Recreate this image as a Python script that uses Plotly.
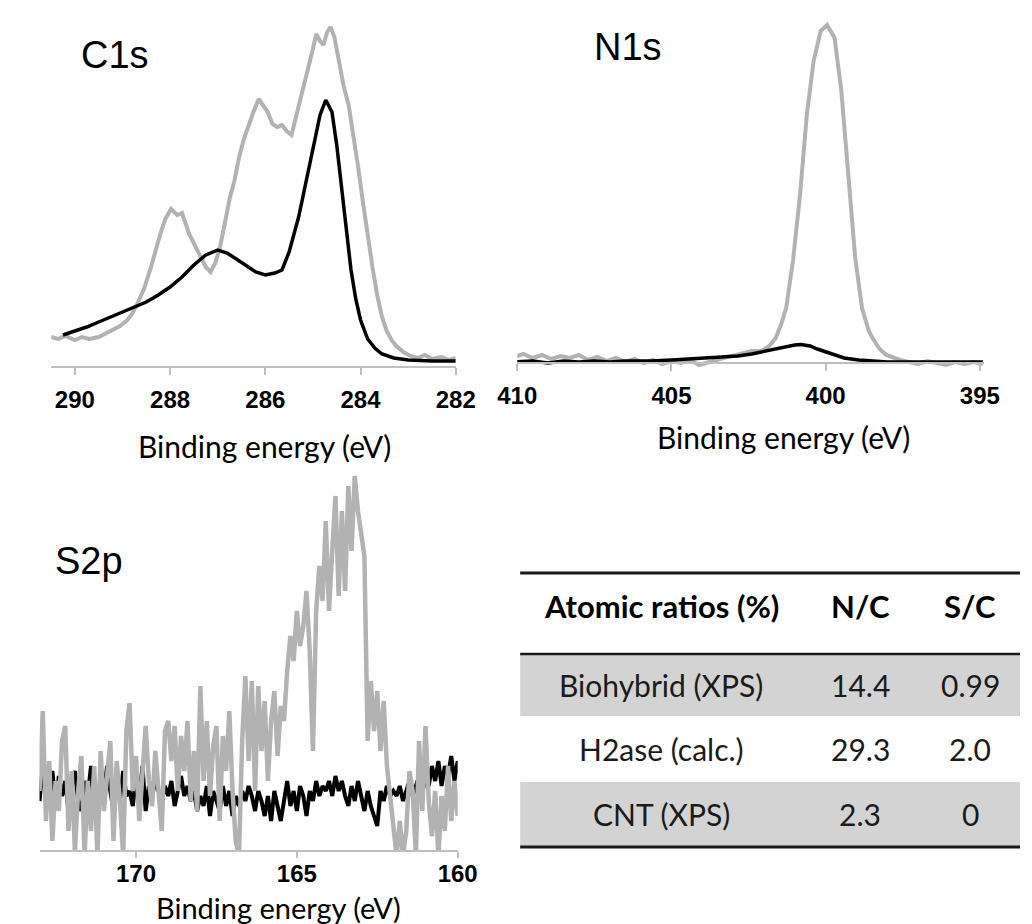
import plotly.graph_objects as go

W, H = 1032, 924

# ---------------- data ----------------
c1s_black_e = [290.25, 290.0, 289.75, 289.5, 289.25, 289.0, 288.75, 288.5, 288.25, 288.0, 287.75, 287.5,
               287.25, 287.0, 286.8, 286.6, 286.4, 286.2, 286.0, 285.8, 285.65, 285.5, 285.3, 285.1,
               284.95, 284.85, 284.73, 284.6, 284.5, 284.4, 284.3, 284.2, 284.1, 284.0, 283.85, 283.7,
               283.55, 283.3, 283.0, 282.5, 282.0]
c1s_black_i = [32, 36, 40, 45, 50, 55, 60, 65, 72, 80, 90, 102,
               112, 117, 114, 108, 101, 95, 92, 94, 97, 115, 150, 195,
               228, 252, 267, 255, 222, 180, 140, 97, 68, 47, 28, 19,
               13, 9, 7, 6, 6]

c1s_gray_e = [290.5, 290.35, 290.2, 290.0, 289.85, 289.7, 289.5, 289.35, 289.2, 289.05, 288.9, 288.8,
              288.7, 288.55, 288.4, 288.3, 288.2, 288.1, 287.98, 287.85, 287.75, 287.6, 287.45, 287.35,
              287.25, 287.15, 287.05, 286.95, 286.85, 286.75, 286.65, 286.55, 286.45, 286.35, 286.25,
              286.14, 286.05, 285.95, 285.85, 285.75, 285.65, 285.55, 285.45, 285.38, 285.3, 285.2,
              285.1, 285.0, 284.93, 284.85, 284.78, 284.7, 284.63, 284.55, 284.45, 284.35, 284.25,
              284.15, 284.05, 283.95, 283.85, 283.75, 283.65, 283.55, 283.45, 283.35, 283.25, 283.1,
              282.95, 282.8, 282.65, 282.5, 282.3, 282.15, 282.0]
c1s_gray_i = [30, 28, 31, 27, 30, 28, 30, 34, 38, 41, 47, 53,
              62, 78, 100, 118, 134, 148, 158, 152, 154, 133, 118, 108,
              100, 95, 104, 120, 145, 168, 186, 210, 228, 242, 255,
              268, 262, 255, 243, 240, 242, 236, 232, 245, 262, 282,
              300, 318, 333, 326, 322, 335, 340, 330, 305, 280, 262,
              232, 200, 165, 130, 100, 72, 50, 36, 27, 21, 15,
              11, 9, 12, 8, 10, 7, 9]

n1s_gray_e = [410.1, 409.8, 409.5, 409.2, 408.9, 408.6, 408.3, 408.0, 407.7, 407.4, 407.1, 406.8, 406.5,
              406.2, 405.9, 405.6, 405.3, 405.0, 404.7, 404.4, 404.1, 403.8, 403.5, 403.2, 402.9, 402.7,
              402.4, 402.07, 401.8, 401.62, 401.45, 401.28, 401.06, 400.83, 400.61, 400.39, 400.16,
              399.95, 399.71, 399.49, 399.27, 399.04, 398.82, 398.6, 398.48, 398.25, 398.03, 397.8,
              397.58, 397.3, 397.0, 396.7, 396.4, 396.1, 395.8, 395.5, 395.2, 394.9]
n1s_gray_i = [6, 9, 5, 8, 4, 7, 5, 8, 3, 6, 2, 5, 1,
              4, 0, 3, -1, 2, 0, 3, -2, 1, 4, 6, 8, 10,
              12, 12, 18, 25, 38, 55, 102, 168, 248, 302, 332,
              338, 325, 272, 188, 105, 55, 32, 25, 14, 8, 5,
              3, 1, -1, 2, 0, -2, 1, -1, 1, -1]

n1s_black_e = [410.1, 409.5, 409.0, 408.5, 408.0, 407.5, 407.0, 406.5, 406.0, 405.65, 405.0, 404.5,
               403.97, 403.5, 402.85, 402.4, 401.95, 401.6, 401.39, 401.0, 400.8, 400.5, 400.27, 400.0,
               399.71, 399.4, 398.93, 398.5, 398.0, 397.0, 396.0, 395.0, 394.9]
n1s_black_i = [1, 2, 0, 2, 1, 2, 1, 2, 2, 2, 3, 4,
               5, 6, 7, 9, 12, 14, 16, 18, 18.5, 17, 14, 11,
               8, 5, 3, 2, 1, 1, 1, 1, 1]

s2p_e = [173.0, 172.9, 172.8, 172.7, 172.6, 172.5, 172.4, 172.3, 172.2, 172.1,
         172.0, 171.9, 171.8, 171.7, 171.6, 171.5, 171.4, 171.3, 171.2, 171.1,
         171.0, 170.9, 170.8, 170.7, 170.6, 170.5, 170.4, 170.3, 170.2, 170.1,
         170.0, 169.9, 169.8, 169.7, 169.6, 169.5, 169.4, 169.3, 169.2, 169.1,
         169.0, 168.9, 168.8, 168.7, 168.6, 168.5, 168.4, 168.3, 168.2, 168.1,
         168.0, 167.9, 167.8, 167.7, 167.6, 167.5, 167.4, 167.3, 167.2, 167.1,
         167.0, 166.9, 166.8, 166.7, 166.6, 166.5, 166.4, 166.3, 166.2, 166.1,
         166.0, 165.9, 165.8, 165.7, 165.6, 165.5, 165.4, 165.3, 165.2, 165.1,
         165.0, 164.9, 164.8, 164.7, 164.6, 164.5, 164.4, 164.3, 164.2, 164.1,
         164.0, 163.9, 163.8, 163.7, 163.6, 163.5, 163.4, 163.3, 163.2, 163.1,
         163.0, 162.9, 162.8, 162.7, 162.6, 162.5, 162.4, 162.3, 162.2, 162.1,
         162.0, 161.9, 161.8, 161.7, 161.6, 161.5, 161.4, 161.3, 161.2, 161.1,
         161.0, 160.9, 160.8, 160.7, 160.6, 160.5, 160.4, 160.3, 160.2, 160.1,
         160.0]
s2p_gray_i = [60, 140, 30, 90, 10, 70, 40, 110, 125, 20,
              80, 0, 60, 95, -5, 70, 20, 85, -5, 100,
              40, 75, 110, 10, 90, 50, -5, 120, 148, 60,
              95, 30, 80, 125, 70, 45, 100, 65, 20, 120,
              130, 90, 125, 60, 115, 80, 130, 50, 100, 40,
              165, 70, 130, 55, 105, 125, 30, 115, 80, 140,
              60, 10, -5, 110, 175, 90, 170, 60, 165, 100,
              150, 70, 130, 160, 95, 145, 130, 180, 215, 190,
              240, 205, 225, 260, 200, 100, 240, 285, 250, 330,
              240, 300, 355, 255, 340, 260, 365, 300, 375, 340,
              320, 295, 110, 170, 120, 160, 100, 150, 85, 55,
              20, -5, 30, -5, 20, 80, 60, -5, 110, 40,
              125, 50, 15, 60, -5, 55, 20, 85, 30, 70,
              35]
s2p_black_i = [50, 85, 70, 60, 80, 45, 75, 55, 70, 40,
               65, 80, 50, 40, 70, 55, 85, 60, 45, 75,
               55, 85, 60, 40, 70, 50, 80, 55, 60, 45,
               75, 50, 85, 40, 65, 55, 70, 60, 50, 65,
               55, 70, 45, 60, 75, 55, 65, 50, 60, 40,
               55, 45, 65, 35, 60, 50, 40, 65, 45, 60,
               35, 55, 45, 60, 50, 65, 55, 40, 60, 50,
               35, 55, 30, 60, 45, 30, 50, 70, 45, 60,
               40, 65, 55, 35, 60, 50, 70, 55, 65, 60,
               70, 55, 75, 60, 70, 55, 45, 65, 50, 70,
               55, 40, 60, 45, 35, 25, 60, 50, 65, 55,
               60, 55, 65, 50, 60, 70, 55, 65, 75, 60,
               70, 65, 85, 70, 90, 65, 85, 75, 95, 70,
               90]

c1s_ticks = [290, 288, 286, 284, 282]
n1s_ticks = [410, 405, 400, 395]
s2p_ticks = [170, 165, 160]

panel_labels = ["C1s", "N1s", "S2p"]
axis_title = "Binding energy (eV)"

table_header = ["Atomic ratios (%)", "N/C", "S/C"]
row_labels = ["Biohybrid (XPS)", "H2ase (calc.)", "CNT (XPS)"]
nc_values = ["14.4", "29.3", "2.3"]
sc_values = ["0.99", "2.0", "0"]

# ---------------- styling ----------------
GRAY = "#B2B2B2"
BLACK = "#000000"
AXCOL = "#BFBFBF"
TICKFONT = dict(family="Liberation Sans Narrow, Liberation Sans, Arial", size=24, color="#000000",
                weight="bold")
TITLEFONT = dict(family="Lato, Carlito, Calibri", size=30, color="#000000")
TITLEFONT_S = dict(family="Lato, Carlito, Calibri", size=29, color="#000000")
LABELFONT = dict(family="Liberation Sans, Arial", size=38, color="#000000")


def px(x):
    return x / W


def py(y):
    return 1 - y / H


fig = go.Figure()

# C1s
fig.add_trace(go.Scatter(x=c1s_gray_e, y=c1s_gray_i, mode="lines", line=dict(color=GRAY, width=4),
                         xaxis="x", yaxis="y", showlegend=False))
fig.add_trace(go.Scatter(x=c1s_black_e, y=c1s_black_i, mode="lines", line=dict(color=BLACK, width=3.5),
                         xaxis="x", yaxis="y", showlegend=False))
# N1s
fig.add_trace(go.Scatter(x=n1s_gray_e, y=n1s_gray_i, mode="lines", line=dict(color=GRAY, width=4),
                         xaxis="x2", yaxis="y2", showlegend=False))
fig.add_trace(go.Scatter(x=n1s_black_e, y=n1s_black_i, mode="lines", line=dict(color=BLACK, width=3.5),
                         xaxis="x2", yaxis="y2", showlegend=False))
# S2p
fig.add_trace(go.Scatter(x=s2p_e, y=s2p_black_i, mode="lines", line=dict(color=BLACK, width=4),
                         xaxis="x3", yaxis="y3", showlegend=False))
fig.add_trace(go.Scatter(x=s2p_e, y=s2p_gray_i, mode="lines", line=dict(color=GRAY, width=4.5),
                         xaxis="x3", yaxis="y3", showlegend=False))


def xax(domain, rng, ticks, ypos, standoff, ticklen=7):
    return dict(domain=domain, range=rng, tickvals=ticks, ticktext=[str(t) for t in ticks],
                showline=True, linecolor=AXCOL, linewidth=2, ticks="outside", ticklen=ticklen,
                tickcolor=AXCOL, tickwidth=1.5, tickfont=TICKFONT, showgrid=False, zeroline=False,
                anchor="free", position=ypos, ticklabelstandoff=standoff, fixedrange=True)


def yax(domain, rng):
    return dict(domain=domain, range=rng, visible=False, fixedrange=True)


fig.update_layout(
    width=W, height=H, margin=dict(l=0, r=0, t=0, b=0),
    paper_bgcolor="white", plot_bgcolor="rgba(0,0,0,0)",
    xaxis=xax([px(24), px(445)], [290.5, 282], c1s_ticks, py(359), 4),
    yaxis=yax([py(359), py(9)], [0, 350]),
    xaxis2=xax([px(509), px(995)], [410, 394.85], n1s_ticks, py(355), 4),
    yaxis2=yax([py(362), py(5)], [-7, 350]),
    xaxis3=xax([px(12), px(447)], [173, 160], s2p_ticks, py(843), -5, ticklen=6),
    yaxis3=yax([py(843), py(460)], [0, 383]),
)

ann = []
# panel labels
for txt, (x, y) in zip(panel_labels, [(90, 47), (624, 39), (63, 553)]):
    ann.append(dict(text=txt, x=px(x), y=py(y), xref="paper", yref="paper", showarrow=False,
                    xanchor="center", yanchor="middle", font=LABELFONT))
# axis titles
for (x, y), f in zip([(246, 438), (786, 429), (261, 899)], [TITLEFONT, TITLEFONT, TITLEFONT_S]):
    ann.append(dict(text=axis_title, x=px(x), y=py(y), xref="paper", yref="paper", showarrow=False,
                    xanchor="center", yanchor="middle", font=f))

# table
shapes = []
row_bounds = [(646, 708), (708, 774), (774, 839)]
row_fill = ["#D3D3D3", "rgba(0,0,0,0)", "#D3D3D3"]
for (y0, y1), fc in zip(row_bounds, row_fill):
    shapes.append(dict(type="rect", xref="paper", yref="paper", x0=px(512), x1=1, y0=py(y1), y1=py(y0),
                       fillcolor=fc, line=dict(width=0), layer="below"))
for y, lw in [(565, 3), (646, 2.5), (839, 3)]:
    shapes.append(dict(type="line", xref="paper", yref="paper", x0=px(512), x1=1, y0=py(y), y1=py(y),
                       line=dict(color="#1A1A1A", width=lw)))

col_x = [659, 866, 980]
TABFONT = dict(family="Lato, Carlito, Calibri", size=30, color="#1A1A1A")
TABHEAD = dict(family="Lato, Carlito, Calibri", size=31, color="#000000", weight="bold")
for cx, txt in zip(col_x, table_header):
    ann.append(dict(text=txt, x=px(cx), y=py(598), xref="paper", yref="paper", showarrow=False,
                    xanchor="center", yanchor="middle", font=TABHEAD))
row_y = [677, 741, 806]
for ry, lab, nc, sc in zip(row_y, row_labels, nc_values, sc_values):
    for cx, txt in zip(col_x, [lab, nc, sc]):
        ann.append(dict(text=txt, x=px(cx), y=py(ry), xref="paper", yref="paper", showarrow=False,
                        xanchor="center", yanchor="middle", font=TABFONT))

fig.update_layout(annotations=ann, shapes=shapes)
fig.write_html("out.html")
